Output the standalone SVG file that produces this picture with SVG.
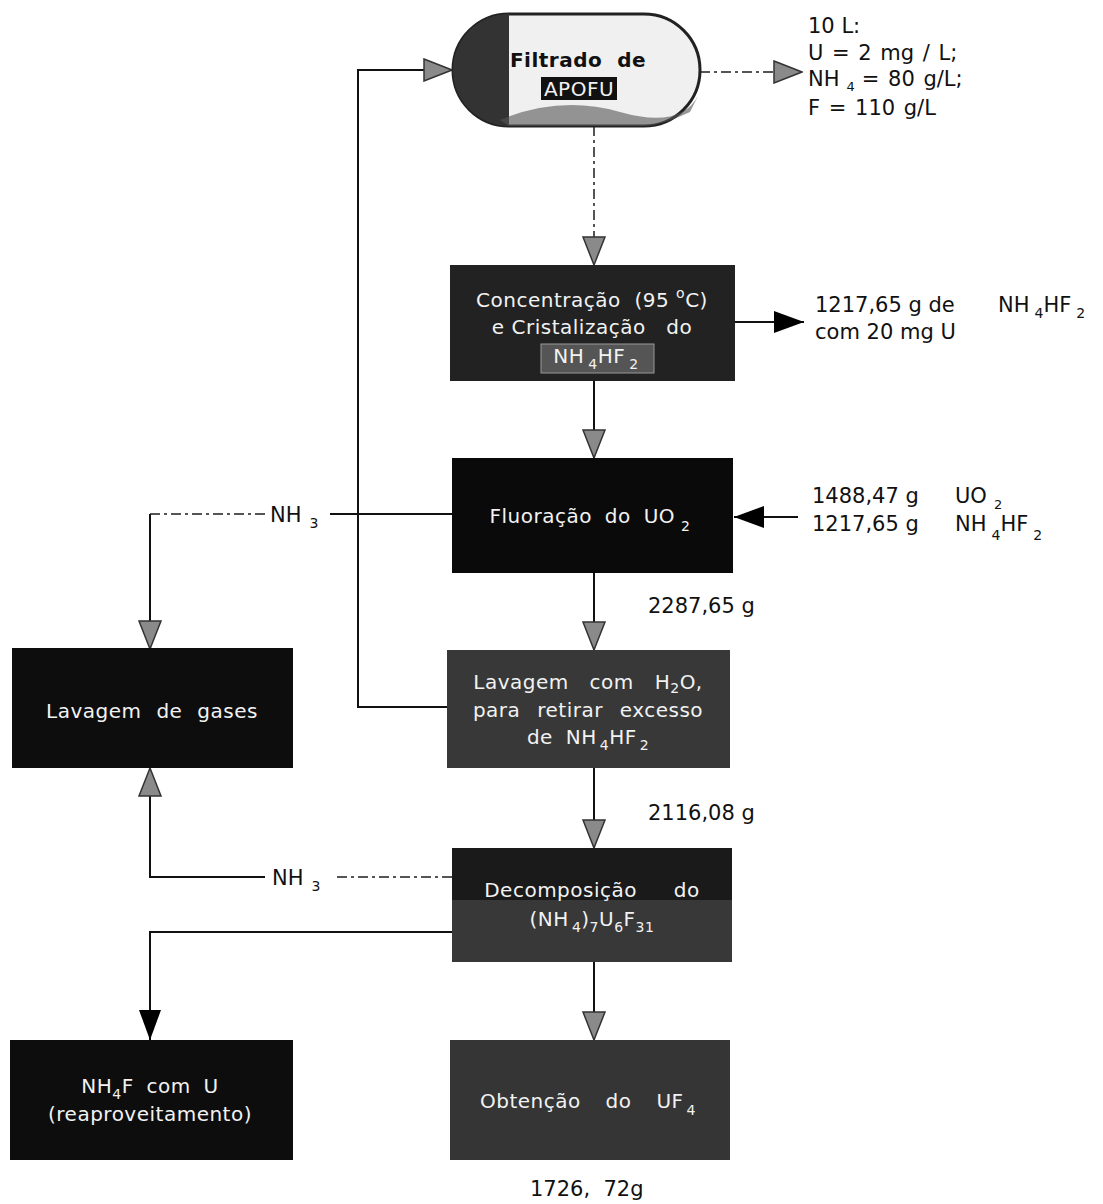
<svg xmlns="http://www.w3.org/2000/svg" width="1103" height="1204" viewBox="0 0 1103 1204">
<style>
.t{font-family:"DejaVu Sans","Verdana",sans-serif;font-size:21px;fill:#111}
.bt{font-family:"DejaVu Sans","Verdana",sans-serif;font-size:20px;fill:#f2f2f2;text-anchor:middle;letter-spacing:0.5px}
.s{font-size:14px}
.ln{fill:none;stroke:#111;stroke-width:2}
.dash{fill:none;stroke:#555;stroke-width:2;stroke-dasharray:10 4 3 4}
</style>
<defs>
<marker id="ag" markerUnits="userSpaceOnUse" markerWidth="30" markerHeight="24" viewBox="0 0 30 24" refX="29" refY="12" orient="auto">
<path d="M1,1 L29,12 L1,23 Z" fill="#8a8a8a" stroke="#333" stroke-width="1.5"/>
</marker>
<marker id="ab" markerUnits="userSpaceOnUse" markerWidth="32" markerHeight="24" viewBox="0 0 32 24" refX="31" refY="12" orient="auto">
<path d="M1,1 L31,12 L1,23 Z" fill="#000"/>
</marker>
</defs>
<rect width="1103" height="1204" fill="#fff"/>

<g id="connectors">
<path class="dash" d="M594,126 V265" marker-end="url(#ag)"/>
<path class="dash" d="M700,72 H802" marker-end="url(#ag)"/>
<path class="ln" d="M735,322 H804" marker-end="url(#ab)"/>
<path class="ln" d="M594,381 V458" marker-end="url(#ag)"/>
<path class="ln" d="M798,517 H734" marker-end="url(#ab)"/>
<path class="ln" d="M594,573 V650" marker-end="url(#ag)"/>
<path class="ln" d="M594,768 V848" marker-end="url(#ag)"/>
<path class="ln" d="M594,962 V1040" marker-end="url(#ag)"/>
<path class="ln" d="M452,514 H330" stroke-width="3"/>
<path class="dash" d="M265,514 H150"/>
<path class="ln" d="M150,514 V649" marker-end="url(#ag)"/>
<path class="ln" d="M447,707 H358 V70 H452" marker-end="url(#ag)"/>
<path class="dash" d="M452,877 H335"/>
<path class="ln" d="M265,877 H150 V768" marker-end="url(#ag)"/>
<path class="ln" d="M452,932 H150 V1040" marker-end="url(#ab)"/>
<text class="t" x="270" y="522">NH<tspan class="s" dx="8" dy="6">3</tspan></text>
<text class="t" x="272" y="885">NH<tspan class="s" dx="8" dy="6">3</tspan></text>
<text class="t" x="648" y="613">2287,65 g</text>
<text class="t" x="648" y="820">2116,08 g</text>
<text class="t" x="530" y="1196" xml:space="preserve">1726,  72g</text>
</g>

<g id="n_filtrado">
<path d="M509,14 H644 A56,56 0 0 1 644,126 H509 A56,56 0 0 1 509,14 Z" fill="#f0f0f0" stroke="#222" stroke-width="3"/>
<path d="M509,14 A56,56 0 0 0 509,126 Z" fill="#333"/>
<path d="M500,120 Q560,95 620,112 T698,96 L690,112 Q660,126 644,126 H509 Z" fill="#555" opacity="0.6"/>
<text class="bt" x="578" y="67" style="fill:#111;font-weight:bold" xml:space="preserve">Filtrado  de</text>
<rect x="541" y="77" width="76" height="23" fill="#111"/>
<text class="bt" x="579" y="96">APOFU</text>
</g>
<text class="t" x="808" y="33">10 L:</text>
<text class="t" x="808" y="60" style="word-spacing:2px">U = 2 mg / L;</text>
<text class="t" x="808" y="86" style="word-spacing:2px">NH<tspan class="s" dx="7" dy="5" style="font-size:13px">4</tspan><tspan dx="7" dy="-5">= 80 g/L;</tspan></text>
<text class="t" x="808" y="115" style="word-spacing:2px">F = 110 g/L</text>

<g id="n_concentracao">
<rect x="450" y="265" width="285" height="116" fill="#222"/>
<rect x="541" y="344" width="113" height="29" fill="#555" stroke="#999" stroke-width="1"/>
<text class="bt" x="592" y="307" xml:space="preserve">Concentração  (95 <tspan class="s" dy="-9">o</tspan><tspan dy="9">C)</tspan></text>
<text class="bt" x="592" y="334" xml:space="preserve">e Cristalização   do</text>
<text class="bt" x="596" y="363">NH<tspan class="s" dx="4" dy="6">4</tspan><tspan dy="-6">HF</tspan><tspan class="s" dx="4" dy="6">2</tspan></text>
</g>
<text class="t" x="815" y="312">1217,65 g de</text>
<text class="t" x="998" y="312">NH<tspan class="s" dx="5" dy="6">4</tspan><tspan dy="-6">HF</tspan><tspan class="s" dx="5" dy="6">2</tspan></text>
<text class="t" x="815" y="339">com 20 mg U</text>

<g id="n_fluoracao">
<rect x="452" y="458" width="281" height="115" fill="#0a0a0a"/>
<text class="bt" x="590" y="523" style="word-spacing:6px">Fluoração do UO<tspan class="s" dx="6" dy="8">2</tspan></text>
</g>
<text class="t" x="812" y="503">1488,47 g</text>
<text class="t" x="955" y="503">UO</text>
<text class="t" x="994" y="509" style="font-size:13px">2</text>
<text class="t" x="812" y="531">1217,65 g</text>
<text class="t" x="955" y="531">NH<tspan class="s" dx="5" dy="9">4</tspan><tspan dy="-9">HF</tspan><tspan class="s" dx="5" dy="9">2</tspan></text>

<g id="n_lavagem_gases">
<rect x="12" y="648" width="281" height="120" fill="#0d0d0d"/>
<text class="bt" x="152" y="718" style="word-spacing:8px">Lavagem de gases</text>
</g>

<g id="n_lavagem">
<rect x="447" y="650" width="283" height="118" fill="#383838"/>
<text class="bt" x="588" y="689" style="word-spacing:14px">Lavagem com H<tspan class="s" dy="4">2</tspan><tspan dy="-4">O,</tspan></text>
<text class="bt" x="588" y="717" style="word-spacing:10px">para retirar excesso</text>
<text class="bt" x="588" y="744" style="word-spacing:6px">de NH<tspan class="s" dx="3" dy="6">4</tspan><tspan dy="-6">HF</tspan><tspan class="s" dx="3" dy="6">2</tspan></text>
</g>

<g id="n_decomposicao">
<rect x="452" y="848" width="280" height="114" fill="#383838"/>
<rect x="452" y="848" width="280" height="52" fill="#1a1a1a"/>
<text class="bt" x="592" y="897" style="word-spacing:30px">Decomposição do</text>
<text class="bt" x="592" y="926">(NH<tspan class="s" dx="3" dy="6">4</tspan><tspan dy="-6">)</tspan><tspan class="s" dy="6">7</tspan><tspan dy="-6">U</tspan><tspan class="s" dy="6">6</tspan><tspan dy="-6">F</tspan><tspan class="s" dy="6">31</tspan></text>
</g>

<g id="n_nh4f">
<rect x="10" y="1040" width="283" height="120" fill="#0d0d0d"/>
<text class="bt" x="150" y="1093" style="word-spacing:6px">NH<tspan class="s" dy="6">4</tspan><tspan dy="-6">F com U</tspan></text>
<text class="bt" x="150" y="1121">(reaproveitamento)</text>
</g>

<g id="n_obtencao">
<rect x="450" y="1040" width="280" height="120" fill="#353535"/>
<text class="bt" x="588" y="1108" style="word-spacing:18px">Obtenção do UF<tspan class="s" dx="3" dy="7">4</tspan></text>
</g>
</svg>
